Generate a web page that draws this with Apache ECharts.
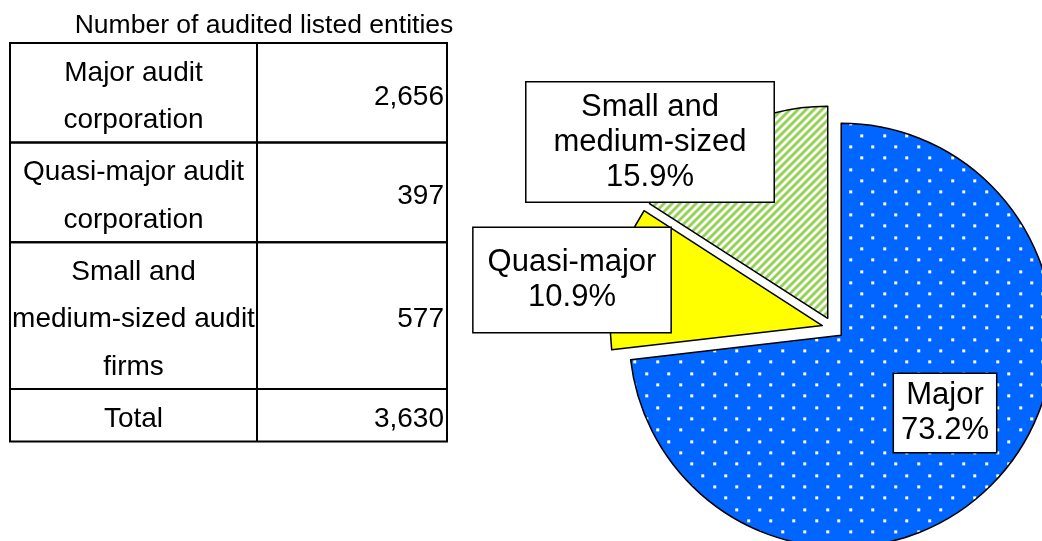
<!DOCTYPE html>
<html>
<head>
<meta charset="utf-8">
<title>Audited listed entities</title>
<script src="https://cdn.jsdelivr.net/npm/echarts@6/dist/echarts.min.js"></script>
<style>
  html, body { margin: 0; padding: 0; background: #fff; }
  #chart { width: 1042px; height: 541px; }
</style>
</head>
<body>
<div id="chart"></div>
<script>
const tableTitle = 'Number of audited listed entities'
const categories = ['Major audit\ncorporation', 'Quasi-major audit\ncorporation', 'Small and\nmedium-sized audit\nfirms']
const counts = [2656, 397, 577]
const totalLabel = 'Total'
const sliceNames = ['Major', 'Quasi-major', 'Small and\nmedium-sized']

const FONT = '"Liberation Sans", Arial, Helvetica, sans-serif'

// fill patterns
const dotPattern = () => {
  const c = document.createElement('canvas')
  c.width = 68; c.height = 68
  const g = c.getContext('2d')
  g.fillStyle = '#0066ff'
  g.fillRect(0, 0, 68, 68)
  g.fillStyle = '#ffffff'
  for (let r = 0; r < 6; r++) {
    for (let k = 0; k < 3; k++) {
      const x = Math.round((r % 2) * 11.33 + k * 22.67) + 2
      const y = Math.round(r * 11.33) + 2
      g.fillRect(x, y, 3, 3)
    }
  }
  return c
}

const stripePattern = () => {
  const c = document.createElement('canvas')
  c.width = 8; c.height = 8
  const g = c.getContext('2d')
  g.fillStyle = '#ffffff'
  g.fillRect(0, 0, 8, 8)
  g.fillStyle = '#92d050'
  for (let x = 0; x < 8; x++) {
    for (let y = 0; y < 8; y++) {
      if ((x + y) % 8 < 4) g.fillRect(x, y, 1, 1)
    }
  }
  return c
}

const sliceFills = [
  { image: dotPattern(), repeat: 'repeat' },
  '#ffff00',
  { image: stripePattern(), repeat: 'repeat' }
]

// label boxes (Excel-style, each a little different)
const labelPadding = [[4, 7], [17, 14], [7, 27]]
const labelCenter = [[945, 413], [572, 280], [650, 142]]
const selOffset = 11

// table layout
const tLeft = 10, tRight = 447, tTop = 43, colSplit = 257
const lineH = 47.3, rowPad = 5
const tableFont = '28px ' + FONT

const total = counts.reduce((s, v) => s + v, 0)
const rowText = categories.concat([totalLabel])
const rowValues = counts.concat([total])

// exploded slices carry their label along; work out that shift
let cum = 0
const sliceShift = counts.map(v => {
  const mid = (cum + v / 2) / total * 2 * Math.PI
  cum += v
  return [selOffset * Math.sin(mid), -selOffset * Math.cos(mid)]
})

const buildTable = () => {
  const els = []
  els.push({
    type: 'text',
    style: { text: tableTitle, x: 264, y: 26, font: '26.5px ' + FONT, fill: '#000', textAlign: 'center', textVerticalAlign: 'middle' }
  })
  let y = tTop
  rowText.forEach((txt, i) => {
    const lines = txt.split('\n').length
    const h = lines * lineH + rowPad
    els.push({
      type: 'rect',
      shape: { x: tLeft, y: y, width: tRight - tLeft, height: h },
      style: { fill: 'none', stroke: '#000', lineWidth: 2 }
    })
    els.push({
      type: 'text',
      style: {
        text: txt, x: (tLeft + colSplit) / 2, y: y + h / 2 + 4,
        font: tableFont, lineHeight: lineH, fill: '#000',
        textAlign: 'center', textVerticalAlign: 'middle'
      }
    })
    els.push({
      type: 'text',
      style: {
        text: rowValues[i].toLocaleString('en-US'), x: tRight - 3, y: y + h / 2 + 4,
        font: tableFont, fill: '#000', textAlign: 'right', textVerticalAlign: 'middle'
      }
    })
    y += h
  })
  els.push({
    type: 'line',
    shape: { x1: colSplit, y1: tTop, x2: colSplit, y2: y },
    style: { stroke: '#000', lineWidth: 2 }
  })
  return els
}

const chart = echarts.init(document.getElementById('chart'), null, { renderer: 'canvas' })

const option = {
  animation: false,
  backgroundColor: '#fff',
  graphic: buildTable(),
  series: [
    {
      type: 'pie',
      center: [833, 328],
      radius: 212,
      startAngle: 90,
      clockwise: true,
      selectedMode: 'multiple',
      selectedOffset: selOffset,
      avoidLabelOverlap: false,
      itemStyle: { borderColor: '#000', borderWidth: 1.5 },
      select: { itemStyle: { borderColor: '#000', borderWidth: 1.5 } },
      emphasis: { disabled: true },
      labelLine: { show: false },
      label: {
        show: true,
        position: 'inside',
        color: '#000',
        fontFamily: FONT,
        fontSize: 31,
        lineHeight: 35,
        align: 'center',
        backgroundColor: '#fff',
        borderColor: '#000',
        borderWidth: 1.5,
        formatter: p => p.name + '\n' + (counts[p.dataIndex] / total * 100).toFixed(1) + '%'
      },
      // shift each label box from its default spot to where the original has it
      labelLayout: p => {
        const r = p.labelRect
        const c = labelCenter[p.dataIndex]
        const s = sliceShift[p.dataIndex]
        return {
          dx: c[0] - (r.x + r.width / 2) - s[0],
          dy: c[1] - (r.y + r.height / 2) - s[1]
        }
      },
      data: counts.map((v, i) => ({
        value: v,
        name: sliceNames[i],
        selected: true,
        itemStyle: { color: sliceFills[i] },
        select: { itemStyle: { color: sliceFills[i] } },
        label: { padding: labelPadding[i] }
      }))
    }
  ]
}

chart.setOption(option)

window.addEventListener('resize', () => {
  chart.resize()
})
</script>
</body>
</html>
